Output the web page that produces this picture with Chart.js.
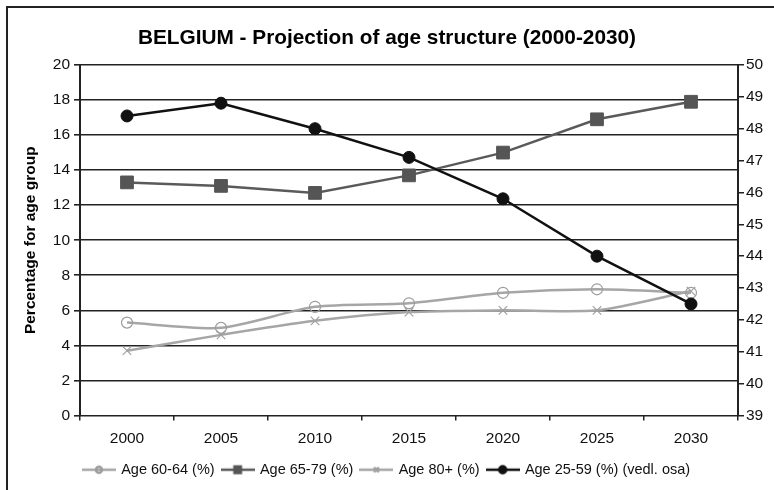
<!DOCTYPE html>
<html>
<head>
<meta charset="utf-8">
<script src="https://cdn.jsdelivr.net/npm/chart.js@4/dist/chart.umd.min.js"></script>
<style>
  html, body { margin: 0; padding: 0; background: #fff; }
  #wrap { position: relative; width: 774px; height: 490px; overflow: hidden; }
  #frame { position: absolute; left: 6px; top: 6px; width: 800px; height: 500px;
           border-top: 2px solid #222; border-left: 2px solid #222; pointer-events: none; }
</style>
</head>
<body>
<div id="wrap">
  <canvas id="c" width="774" height="490"></canvas>
  <div id="frame"></div>
</div>
<script>
// Projection years
const years = ['2000', '2005', '2010', '2015', '2020', '2025', '2030'];

// Shares of population by age group (%), left axis
const age6064 = [5.3, 5.0, 6.2, 6.4, 7.0, 7.2, 7.0];
const age6579 = [13.3, 13.1, 12.7, 13.7, 15.0, 16.9, 17.9];
const age80plus = [3.7, 4.6, 5.4, 5.9, 6.0, 6.0, 7.1];

// Share of age 25-59 (%), secondary (right) axis
const age2559 = [48.4, 48.8, 48.0, 47.1, 45.8, 44.0, 42.5];

// Series names and axis texts
const seriesNames = ['Age 60-64 (%)', 'Age 65-79 (%)', 'Age 80+ (%)', 'Age 25-59 (%) (vedl. osa)'];
const chartTitle = 'BELGIUM - Projection of age structure (2000-2030)';
const leftAxisTitle = 'Percentage for age group';

const FONT = "'Liberation Sans', Arial, Helvetica, sans-serif";
const AXIS = '#222';

// Small "line with marker" swatch for the legend
function legendIcon(ds) {
  const c = document.createElement('canvas');
  c.width = 34; c.height = 14;
  const g = c.getContext('2d');
  g.strokeStyle = ds.borderColor;
  g.lineWidth = 2.5;
  g.beginPath(); g.moveTo(0, 7); g.lineTo(34, 7); g.stroke();
  g.fillStyle = ds.pointBackgroundColor;
  g.strokeStyle = ds.pointBorderColor;
  Chart.helpers.drawPoint(g, {
    pointStyle: ds.pointStyle,
    radius: ds.legendRadius,
    borderWidth: ds.pointBorderWidth,
    rotation: 0
  }, 17, 7);
  return c;
}

const datasets = [
  {
    label: seriesNames[0], data: age6064, yAxisID: 'y', order: 2,
    borderColor: '#a6a6a6', borderWidth: 2.5, tension: 0.25,
    pointStyle: 'circle', pointRadius: 5.5, legendRadius: 3,
    pointBackgroundColor: 'rgba(255,255,255,0)', pointBorderColor: '#9c9c9c', pointBorderWidth: 1.2
  },
  {
    label: seriesNames[1], data: age6579, yAxisID: 'y', order: 1,
    borderColor: '#5a5a5a', borderWidth: 2.5, tension: 0,
    pointStyle: 'rect', pointRadius: 9, legendRadius: 4.5,
    pointBackgroundColor: '#555', pointBorderColor: '#555', pointBorderWidth: 1
  },
  {
    label: seriesNames[2], data: age80plus, yAxisID: 'y', order: 3,
    borderColor: '#a6a6a6', borderWidth: 2.5, tension: 0.25,
    pointStyle: 'crossRot', pointRadius: 6, legendRadius: 3.5,
    pointBackgroundColor: '#a0a0a0', pointBorderColor: '#a0a0a0', pointBorderWidth: 1.2
  },
  {
    label: seriesNames[3], data: age2559, yAxisID: 'y1', order: 0,
    borderColor: '#111', borderWidth: 2.5, tension: 0,
    pointStyle: 'circle', pointRadius: 6, legendRadius: 3.5,
    pointBackgroundColor: '#111', pointBorderColor: '#111', pointBorderWidth: 1
  }
];
datasets.forEach(d => { d.fill = false; d.pointHoverRadius = d.pointRadius; });

const tickFont = { family: FONT, size: 15.5 };

new Chart(document.getElementById('c'), {
  type: 'line',
  data: { labels: years, datasets },
  options: {
    responsive: false,
    animation: false,
    events: [],
    layout: { padding: { left: 0, right: 0, top: 0, bottom: 3 } },
    plugins: {
      title: {
        display: true, text: chartTitle, color: '#000',
        font: { family: FONT, size: 20.8, weight: 'bold' },
        padding: { top: 26, bottom: 14 }
      },
      legend: {
        position: 'bottom',
        labels: {
          usePointStyle: true, pointStyleWidth: 30, padding: 8,
          color: '#111', font: { family: FONT, size: 14.5 },
          generateLabels: (chart) => chart.data.datasets.map((ds, i) => ({
            text: ds.label, pointStyle: legendIcon(ds), datasetIndex: i,
            fillStyle: 'rgba(0,0,0,0)', strokeStyle: 'rgba(0,0,0,0)', lineWidth: 0,
            hidden: false, fontColor: '#111'
          }))
        }
      },
      tooltip: { enabled: false }
    },
    scales: {
      x: {
        offset: true,
        grid: { display: true, drawOnChartArea: false, offset: true, tickLength: 5, color: AXIS, lineWidth: 1.5 },
        border: { display: false },
        ticks: { padding: 9, color: '#111', font: tickFont },
        afterFit(s) { s.height = 39; }
      },
      y: {
        position: 'left', min: 0, max: 20,
        ticks: { stepSize: 2, padding: 4, color: '#111', font: tickFont },
        grid: { color: AXIS, lineWidth: 1.6, tickLength: 6 },
        border: { color: AXIS, width: 2 },
        title: {
          display: true, text: leftAxisTitle, color: '#000',
          font: { family: FONT, size: 15.5, weight: 'bold' },
          padding: { top: 21, bottom: 0 }
        },
        afterFit(s) { s.width = 80; }
      },
      y1: {
        position: 'right', min: 39, max: 50,
        ticks: { stepSize: 1, padding: 2, color: '#111', font: tickFont },
        grid: { drawOnChartArea: false, color: AXIS, lineWidth: 1.5, tickLength: 6 },
        border: { color: AXIS, width: 2 },
        afterFit(s) { s.width = 36; }
      }
    }
  }
});
</script>
</body>
</html>
